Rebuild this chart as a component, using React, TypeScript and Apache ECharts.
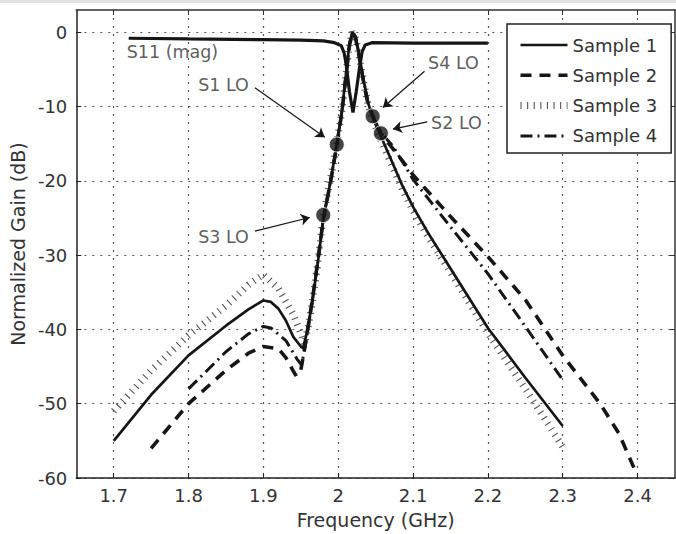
import React, { useEffect, useRef } from 'react';
import * as echarts from 'echarts';

const xTicks = [1.7, 1.8, 1.9, 2.0, 2.1, 2.2, 2.3, 2.4];
const yTicks = [-60, -50, -40, -30, -20, -10, 0];

const s1Freq = [1.70, 1.75, 1.80, 1.85, 1.88, 1.90, 1.91, 1.92, 1.93, 1.94, 1.95, 1.953, 1.958, 1.965, 1.973, 1.98, 1.99, 1.998, 2.005, 2.01, 2.015, 2.019, 2.023, 2.028, 2.034, 2.04, 2.046, 2.057, 2.07, 2.085, 2.1, 2.12, 2.15, 2.2, 2.25, 2.3];
const s1Gain = [-55, -48.8, -43.5, -39.5, -37.3, -36.1, -36.3, -37.2, -38.8, -41, -42.3, -42.5, -40.5, -36.5, -30.8, -25.2, -19.9, -15.1, -10.5, -6, -1.5, 0, -0.5, -3, -6.5, -9.5, -11.5, -14, -17, -20.5, -23.5, -27, -31.8, -39.8, -46.5, -53];

const s2Freq = [1.75, 1.80, 1.85, 1.88, 1.90, 1.92, 1.93, 1.94, 1.944, 1.95, 1.956, 1.965, 1.973, 1.98, 1.99, 1.998, 2.005, 2.01, 2.015, 2.019, 2.023, 2.028, 2.034, 2.04, 2.046, 2.057, 2.07, 2.085, 2.1, 2.15, 2.2, 2.25, 2.3, 2.35, 2.375, 2.395];
const s2Gain = [-56, -50, -45.5, -43.2, -42.3, -42.6, -43.8, -45.6, -46.3, -45.5, -42, -36.3, -30.6, -25.2, -20, -15.3, -10.7, -6.2, -1.7, -0.2, -0.7, -3.3, -6.8, -9.8, -11.2, -13.6, -15.3, -17.2, -19.2, -24.8, -30.2, -36, -43.5, -50, -54, -58.6];

const s3Freq = [1.70, 1.75, 1.80, 1.85, 1.88, 1.90, 1.92, 1.94, 1.95, 1.955, 1.96, 1.965, 1.973, 1.98, 1.99, 1.998, 2.005, 2.01, 2.015, 2.019, 2.023, 2.028, 2.034, 2.04, 2.046, 2.057, 2.07, 2.085, 2.1, 2.12, 2.15, 2.2, 2.25, 2.3];
const s3Gain = [-51, -45.5, -40.8, -36.8, -34, -32.6, -34.5, -38, -40.5, -42, -39.5, -36.6, -30.9, -24.6, -19.6, -15, -10.5, -6, -1.5, 0, -0.6, -3.2, -6.8, -9.8, -11.8, -14.5, -17.5, -21, -24, -27.5, -32.3, -40.5, -48, -55.8];

const s4Freq = [1.80, 1.85, 1.88, 1.90, 1.91, 1.93, 1.945, 1.951, 1.956, 1.965, 1.973, 1.98, 1.99, 1.998, 2.005, 2.01, 2.015, 2.019, 2.023, 2.028, 2.034, 2.04, 2.046, 2.057, 2.073, 2.1, 2.15, 2.2, 2.25, 2.3];
const s4Gain = [-48, -43, -40.6, -39.6, -39.8, -41.5, -44, -44.8, -42.2, -36.4, -30.7, -25.1, -19.9, -15.2, -10.6, -6.1, -1.6, -0.1, -0.6, -3.1, -6.6, -9.6, -11.3, -13.5, -15.3, -19.8, -26.2, -32.5, -39.6, -46.8];

const s11Freq = [1.72, 1.8, 1.9, 1.95, 1.98, 1.995, 2.004, 2.008, 2.011, 2.015, 2.0197, 2.024, 2.0287, 2.032, 2.036, 2.045, 2.1, 2.2];
const s11Gain = [-0.8, -0.9, -1.0, -1.05, -1.15, -1.4, -1.8, -2.8, -4.6, -8, -10.8, -8, -4.6, -2.6, -1.7, -1.4, -1.45, -1.45];

const loFreq = [1.998, 1.980, 2.046, 2.057];
const loGain = [-15.1, -24.6, -11.3, -13.6];

const labelNames = ['S11 (mag)', 'S1 LO', 'S3 LO', 'S4 LO', 'S2 LO'];
const labelFreq = [1.7167, 1.8467, 1.8467, 2.154, 2.158];
const labelGain = [-2.72, -7.03, -27.56, -4.16, -12.23];

const arrowFrom = [[1.8887, -7.47], [1.8887, -26.76], [2.1153, -5.25], [2.1189, -12.05]];
const arrowTo = [[1.982, -14.13], [1.962, -24.93], [2.0597, -10.13], [2.0731, -13.03]];

const legendNames = ['Sample 1', 'Sample 2', 'Sample 3', 'Sample 4'];

const zip = (f: number[], g: number[]) => f.map((x, i) => [x, g[i]]);

const FONT = 'DejaVu Sans';
const TEXT = '#333';
const INK = '#161616';

export default function App() {
  const ref = useRef<HTMLDivElement>(null);
  useEffect(() => {
    if (!ref.current) return;
    const chart = echarts.init(ref.current, null, { renderer: 'svg' });
    const lineBase = { type: 'line', showSymbol: false, symbol: 'none', silent: true, xAxisIndex: 0, yAxisIndex: 0, itemStyle: { color: INK } };
    const option: any = {
      animation: false,
      backgroundColor: '#fff',
      textStyle: { fontFamily: FONT },
      graphic: [
        { type: 'rect', left: 0, top: 0, shape: { width: 676, height: 3 }, style: { fill: '#e2e2e2' }, silent: true },
      ],
      grid: { left: 76, top: 10, right: 1, bottom: 52, show: false },
      legend: {
        data: legendNames,
        orient: 'vertical',
        left: 507,
        top: 24,
        padding: [12, 14, 8, 10],
        itemWidth: 47,
        itemHeight: 14,
        itemGap: 12.3,
        borderColor: '#222',
        borderWidth: 1.5,
        backgroundColor: '#fff',
        selectedMode: false,
        textStyle: { fontSize: 18, color: TEXT, lineHeight: 18, fontFamily: FONT },
        lineStyle: { width: 'inherit' },
        itemStyle: { color: 'rgba(0,0,0,0)', borderWidth: 0, opacity: 0 },
      },
      xAxis: [
        {
          type: 'value', min: 1.65, max: 2.45,
          name: 'Frequency (GHz)', nameLocation: 'middle', nameGap: 32,
          nameTextStyle: { fontSize: 19, color: TEXT, fontFamily: FONT },
          axisLine: { show: true, onZero: false, lineStyle: { color: '#222', width: 1.5 } },
          axisTick: { show: true, inside: true, length: 5, customValues: xTicks, lineStyle: { color: '#222' } },
          axisLabel: { customValues: xTicks, fontSize: 18, color: TEXT, margin: 8, fontFamily: FONT },
          splitLine: { show: true, lineStyle: { type: [2, 6], color: '#555', width: 1.2 } },
        },
        {
          type: 'value', min: 1.65, max: 2.45, position: 'top',
          axisLine: { show: true, onZero: false, lineStyle: { color: '#333', width: 1.5 } },
          axisTick: { show: true, inside: true, length: 5, customValues: xTicks, lineStyle: { color: '#333' } },
          axisLabel: { show: false },
          splitLine: { show: false },
        },
      ],
      yAxis: [
        {
          type: 'value', min: -60, max: 3,
          name: 'Normalized Gain (dB)', nameLocation: 'middle', nameGap: 49,
          nameTextStyle: { fontSize: 19, color: TEXT, fontFamily: FONT },
          axisLine: { show: true, onZero: false, lineStyle: { color: '#222', width: 1.5 } },
          axisTick: { show: true, inside: true, length: 5, customValues: yTicks, lineStyle: { color: '#222' } },
          axisLabel: { customValues: yTicks, fontSize: 18, color: TEXT, margin: 9, fontFamily: FONT },
          splitLine: { show: true, lineStyle: { type: [2, 6], color: '#555', width: 1.2 } },
        },
        {
          type: 'value', min: -60, max: 3, position: 'right',
          axisLine: { show: true, onZero: false, lineStyle: { color: '#333', width: 1.5 } },
          axisTick: { show: true, inside: true, length: 5, customValues: yTicks, lineStyle: { color: '#333' } },
          axisLabel: { show: false },
          splitLine: { show: false },
        },
      ],
      series: [
        { ...lineBase, name: 'Sample 3', data: zip(s3Freq, s3Gain), z: 2, lineStyle: { color: '#555', width: 7, type: [1.1, 5.5] } },
        { ...lineBase, name: 'Sample 1', data: zip(s1Freq, s1Gain), z: 3, lineStyle: { color: INK, width: 2.7, type: 'solid' } },
        { ...lineBase, name: 'Sample 2', data: zip(s2Freq, s2Gain), z: 3, lineStyle: { color: INK, width: 3.6, type: [11, 8] } },
        { ...lineBase, name: 'Sample 4', data: zip(s4Freq, s4Gain), z: 3, lineStyle: { color: INK, width: 3, type: [12, 5, 2, 5] } },
        { ...lineBase, name: 'S11', data: zip(s11Freq, s11Gain), z: 4, lineStyle: { color: INK, width: 3.2, type: 'solid' } },
        {
          type: 'scatter', name: 'LO', data: zip(loFreq, loGain), symbolSize: 15, z: 5, silent: true,
          itemStyle: { color: INK, borderColor: '#fff', borderWidth: 1 },
          markLine: {
            silent: true,
            symbol: ['none', 'arrow'],
            symbolSize: 9,
            label: { show: false },
            lineStyle: { color: INK, width: 1.2, type: 'solid' },
            emphasis: { disabled: true },
            data: arrowFrom.map((a, i) => [{ coord: a }, { coord: arrowTo[i] }]),
          },
        },
        {
          type: 'scatter', name: 'labels', symbolSize: 1, silent: true, z: 6,
          itemStyle: { color: 'rgba(0,0,0,0)' },
          label: { show: true, position: 'inside', fontSize: 17.5, color: TEXT, fontFamily: FONT, formatter: '{b}' },
          data: labelNames.map((n, i) => ({
            name: n,
            value: [labelFreq[i], labelGain[i]],
            label: i === 0 ? { position: 'right', distance: 0 } : undefined,
          })),
        },
      ],
    };
    chart.setOption(option);
    return () => chart.dispose();
  }, []);
  return <div ref={ref} style={{ position: 'fixed', left: 0, top: 0, width: 676, height: 534, background: '#fff' }} />;
}
